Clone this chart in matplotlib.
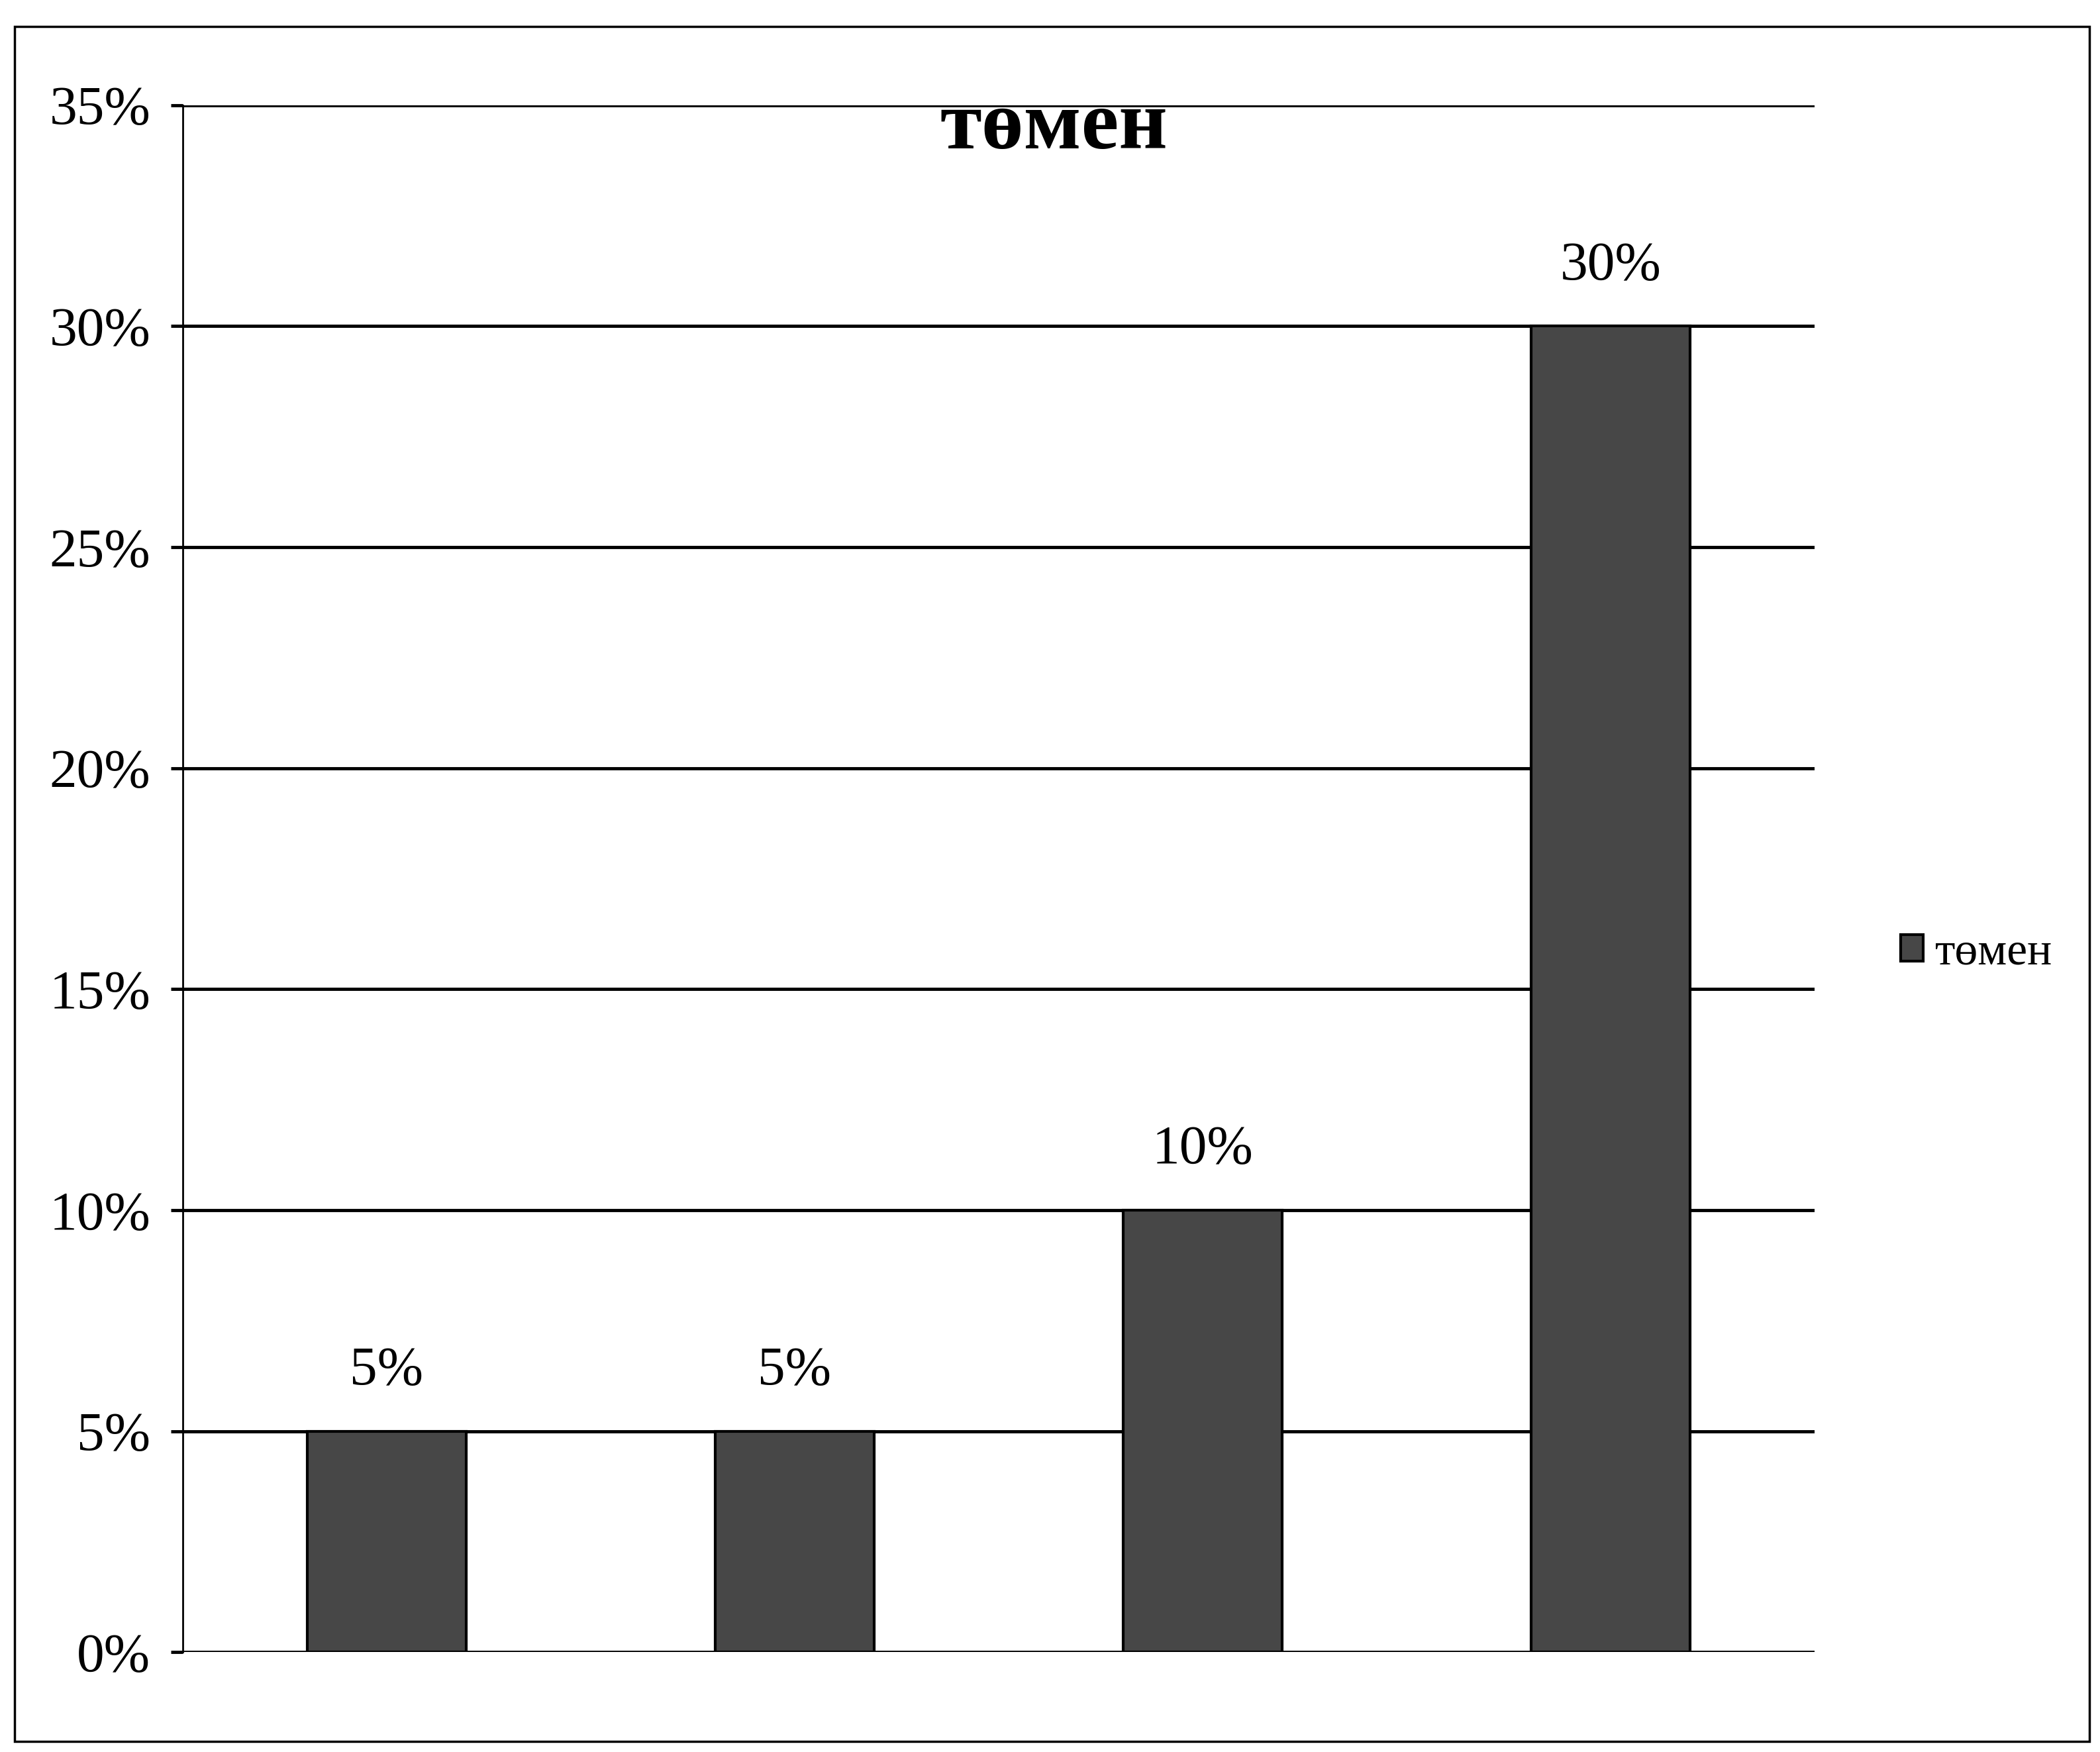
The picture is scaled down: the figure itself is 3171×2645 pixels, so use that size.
import numpy as np
import matplotlib
matplotlib.use("Agg")
import matplotlib.pyplot as plt
from matplotlib.patches import Rectangle

plt.rcParams["font.family"] = ["Liberation Serif", "DejaVu Serif"]

# ---------------------------------------------------------------------
# Chart data
# ---------------------------------------------------------------------
CATEGORIES = ["1", "2", "3", "4"]
VALUES = [5, 5, 10, 30]          # percent
Y_TICKS = [0, 5, 10, 15, 20, 25, 30, 35]
SERIES_NAME = "төмен"
TITLE = "төмен"

BAR_COLOR = "#474747"

fig = plt.figure(figsize=(31.71, 26.45), dpi=100)
ax = fig.add_axes([0.087, 0.057, 0.777, 0.883])

x = np.arange(len(CATEGORIES))
bars = ax.bar(x, VALUES, width=0.39, color=BAR_COLOR, edgecolor="black",
              linewidth=3, label=SERIES_NAME, zorder=3)

for b, v in zip(bars, VALUES):
    ax.annotate(f"{v}%", (b.get_x() + b.get_width() / 2, b.get_height()),
                xytext=(0, 38), textcoords="offset points",
                ha="center", va="bottom", fontsize=60)

ax.set_xlim(-0.5, len(CATEGORIES) - 0.5)
ax.set_ylim(0, 35)
ax.set_yticks(Y_TICKS)
ax.set_yticklabels([f"{t}%" for t in Y_TICKS], fontsize=60)
ax.set_xticks([])
ax.yaxis.grid(True, color="black", linewidth=3.5, zorder=0)
ax.set_axisbelow(True)
ax.tick_params(axis="y", length=13, width=3.5, pad=22, direction="out")

for side in ["top", "right", "bottom"]:
    ax.spines[side].set_visible(False)
ax.spines["left"].set_linewidth(2)

fig.text(0.502, 0.927, TITLE, ha="center", va="center",
         fontsize=92, fontweight="bold")

fig.legend(handles=[bars], labels=[SERIES_NAME], loc="center left",
           bbox_to_anchor=(0.905, 0.456), frameon=False, fontsize=50,
           borderpad=0, borderaxespad=0,
           handlelength=0.5, handleheight=0.5, handletextpad=0.25)

# outer chart border
fig.add_artist(Rectangle((0.007, 0.006), 0.988, 0.979, transform=fig.transFigure,
                         fill=False, edgecolor="black", linewidth=2.5))

fig.savefig("out.png", dpi=100, facecolor="white")
